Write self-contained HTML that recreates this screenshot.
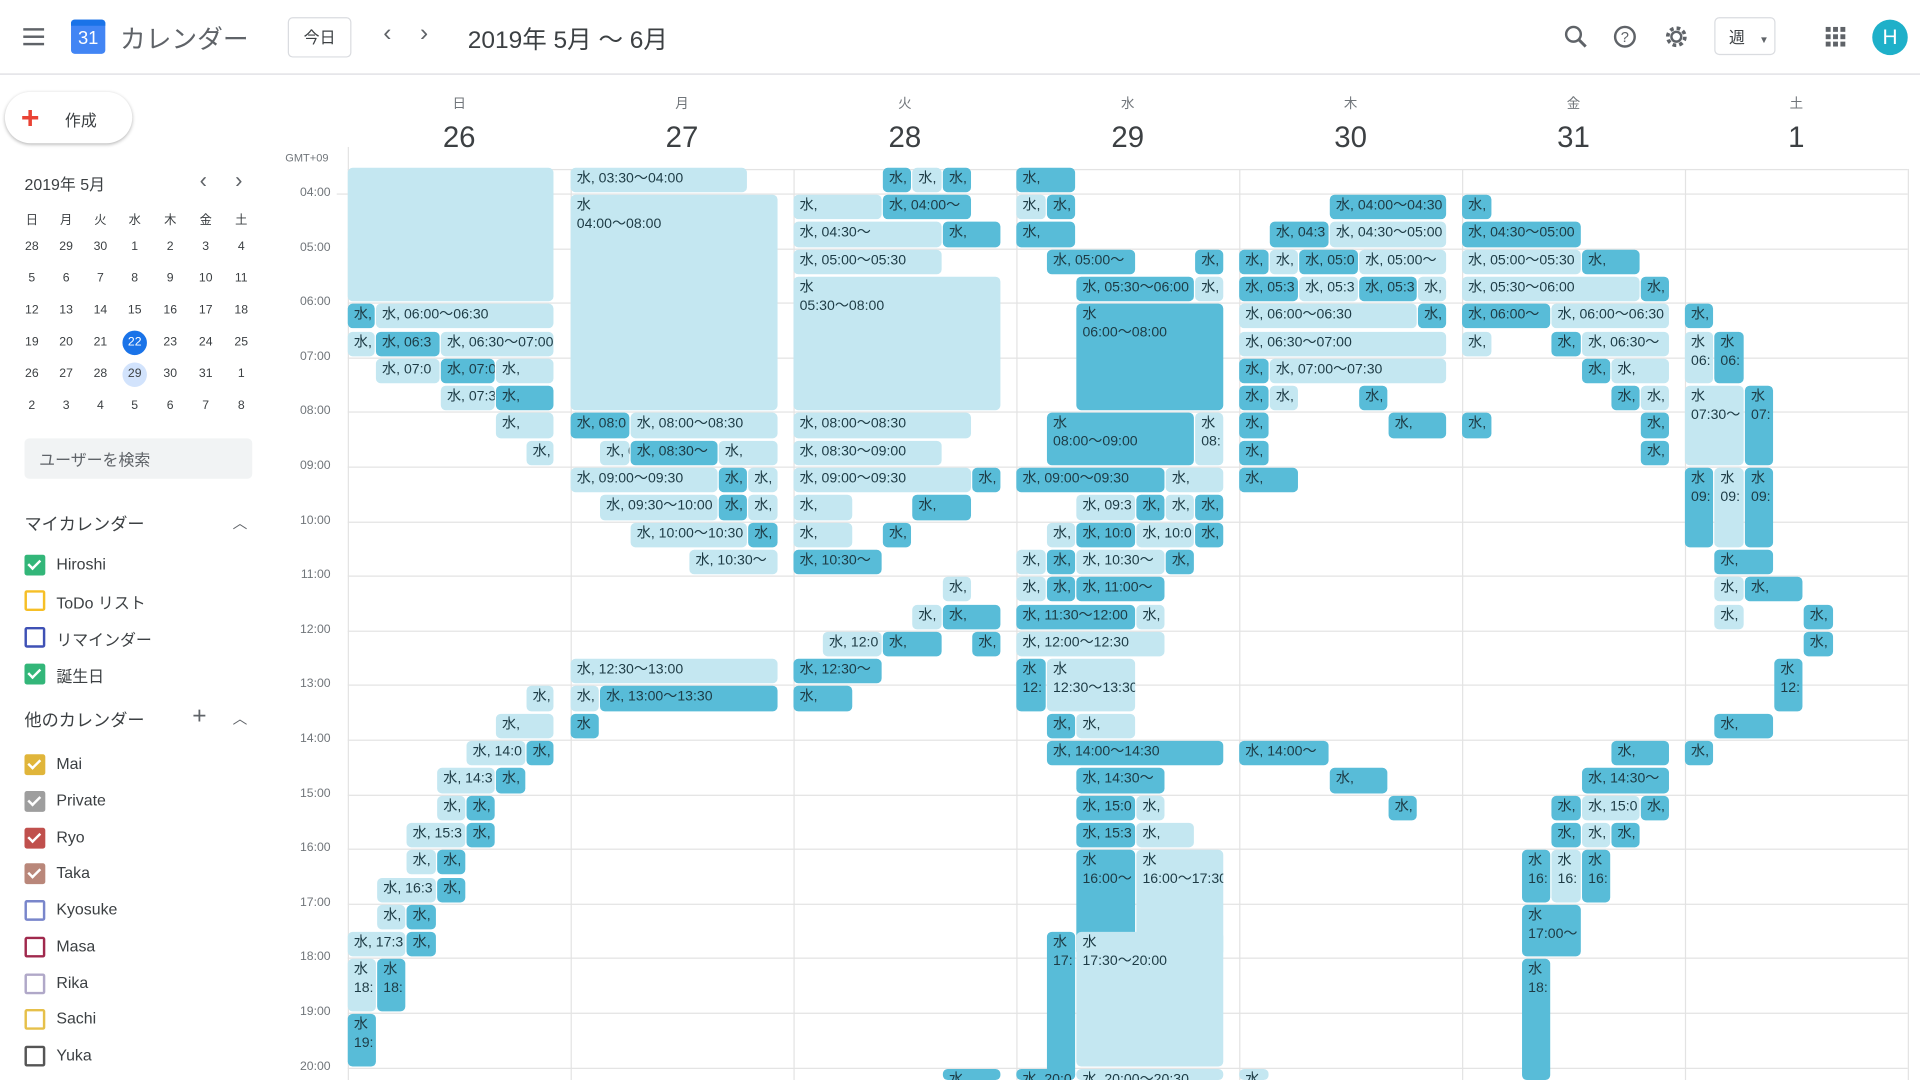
<!DOCTYPE html>
<html><head><meta charset="utf-8">
<style>
html,body{margin:0;padding:0;width:1920px;height:1080px;overflow:hidden;background:#fff;}
#w{position:absolute;left:0;top:0;width:1568px;height:882px;transform:scale(1.22449);transform-origin:0 0;font-family:"Liberation Sans","Noto Sans CJK JP",sans-serif;color:#3c4043;}
.a{position:absolute;white-space:nowrap;}
.ev{position:absolute;border-radius:4px;font-size:11.5px;color:#1d3b45;overflow:hidden;white-space:nowrap;padding:2px 0 0 5px;box-sizing:border-box;line-height:15px;}
.d{background:#58bcd8;}
.l{background:#c4e7f1;}
.hl{position:absolute;left:284px;width:1274px;height:1px;background:#e3e3e3;}
.vl{position:absolute;top:138px;width:1px;height:744px;background:#e3e3e3;}
.tl{position:absolute;left:232px;width:38px;text-align:right;font-size:10px;color:#70757a;}
.mc{position:absolute;width:24px;text-align:center;font-size:10px;color:#3c4043;}
.cb{position:absolute;left:20px;width:13px;height:13px;border:2px solid;border-radius:2px;box-sizing:content-box;}
.cb.c::after{content:"";position:absolute;left:3px;top:0px;width:4px;height:8px;border:solid #fff;border-width:0 2px 2px 0;transform:rotate(45deg);}
.cl{position:absolute;left:46px;font-size:13px;color:#3c4043;}
</style></head><body><div id="w">
<div class="a" style="left:0;top:60px;width:1568px;height:1px;background:#dadce0"></div>
<div class="a" style="left:19px;top:23px;width:17px;height:2px;background:#5f6368;box-shadow:0 6px 0 #5f6368,0 12px 0 #5f6368"></div>
<div class="a" style="left:58px;top:16px;width:28px;height:28px;background:#4285f4;border-radius:3px;color:#fff;font-size:15px;text-align:center;line-height:32px;">31</div>
<div class="a" style="left:58px;top:16px;width:28px;height:5px;background:#1a73e8;border-radius:3px 3px 0 0"></div>
<div class="a" style="left:98px;top:16px;font-size:21px;color:#5f6368;">カレンダー</div>
<div class="a" style="left:235px;top:14px;width:50px;height:31px;border:1px solid #dadce0;border-radius:4px;font-size:13px;text-align:center;line-height:31px;">今日</div>
<div class="a" style="left:313px;top:16px;font-size:20px;color:#5f6368;">‹</div>
<div class="a" style="left:343px;top:16px;font-size:20px;color:#5f6368;">›</div>
<div class="a" style="left:382px;top:16px;font-size:20px;color:#3c4043;">2019年 5月 〜 6月</div>
<svg class="a" style="left:1277px;top:20px" width="20" height="20"><circle cx="8" cy="8" r="6" fill="none" stroke="#5f6368" stroke-width="2"/><line x1="12" y1="12" x2="18" y2="18" stroke="#5f6368" stroke-width="2.4"/></svg>
<svg class="a" style="left:1317px;top:20px" width="20" height="20"><circle cx="10" cy="10" r="8" fill="none" stroke="#5f6368" stroke-width="2"/><text x="10" y="14.5" font-size="12" text-anchor="middle" fill="#5f6368" font-family="Liberation Sans">?</text></svg>
<svg class="a" style="left:1359px;top:20px" width="20" height="20"><circle cx="10" cy="10" r="7" fill="none" stroke="#5f6368" stroke-width="3" stroke-dasharray="3 2.5"/><circle cx="10" cy="10" r="4" fill="none" stroke="#5f6368" stroke-width="2"/></svg>
<div class="a" style="left:1400px;top:14px;width:50px;height:31px;border:1px solid #dadce0;border-radius:4px;font-size:13px;line-height:31px;padding-left:11px;box-sizing:border-box;">週 <span style="font-size:8px;margin-left:8px;color:#5f6368">▼</span></div>
<div class="a" style="left:1491px;top:22px;width:4px;height:4px;background:#5f6368;box-shadow:6px 0 #5f6368,12px 0 #5f6368,0 6px #5f6368,6px 6px #5f6368,12px 6px #5f6368,0 12px #5f6368,6px 12px #5f6368,12px 12px #5f6368"></div>
<div class="a" style="left:1529px;top:16px;width:29px;height:29px;border-radius:50%;background:#1eb0c9;color:#fff;font-size:17px;text-align:center;line-height:29px;">H</div>
<div class="a" style="left:4px;top:75px;width:104px;height:42px;border-radius:21px;box-shadow:0 1px 3px rgba(0,0,0,.3);background:#fff"></div>
<div class="a" style="left:17px;top:85px;font-size:26px;line-height:22px;color:#ea4335;font-weight:bold">+</div>
<div class="a" style="left:53px;top:88px;font-size:13px;">作成</div>
<div class="a" style="left:20px;top:140px;font-size:13px;">2019年 5月</div>
<div class="a" style="left:163px;top:137px;font-size:18px;color:#5f6368">‹</div>
<div class="a" style="left:192px;top:137px;font-size:18px;color:#5f6368">›</div>
<div id="mini"></div>
<div class="a" style="left:20px;top:358px;width:186px;height:33px;background:#f1f3f4;border-radius:4px;font-size:13px;line-height:36px;padding-left:12px;box-sizing:border-box;color:#5f6368">ユーザーを検索</div>
<div class="a" style="left:20px;top:418px;font-size:14px;">マイカレンダー</div>
<div class="a" style="left:190px;top:418px;font-size:12px;color:#5f6368">︿</div>
<div class="a" style="left:20px;top:578px;font-size:14px;">他のカレンダー</div>
<div class="a" style="left:157px;top:574px;font-size:20px;color:#5f6368">+</div>
<div class="a" style="left:190px;top:578px;font-size:12px;color:#5f6368">︿</div>
<div id="cals"></div>
<div class="a" style="left:233px;top:124px;font-size:9px;color:#70757a">GMT+09</div>
<div id="grid"></div>
<div id="evs"></div>
</div>
<script>
var h='';
var wd=['日','月','火','水','木','金','土'],mx=[26,54,82,110,139,168,197];
wd.forEach(function(d,i){h+='<div class="mc" style="left:'+(mx[i]-12)+'px;top:171px">'+d+'</div>';});
var rows=[[28,29,30,1,2,3,4],[5,6,7,8,9,10,11],[12,13,14,15,16,17,18],[19,20,21,22,23,24,25],[26,27,28,29,30,31,1],[2,3,4,5,6,7,8]];
rows.forEach(function(r,ri){r.forEach(function(n,i){var y=202+ri*26;var st='';
if(ri==3&&i==3){h+='<div class="a" style="left:'+(mx[i]-10)+'px;top:'+(y-10)+'px;width:20px;height:20px;border-radius:50%;background:#1a73e8"></div>';st='color:#fff;';}
if(ri==4&&i==3){h+='<div class="a" style="left:'+(mx[i]-10)+'px;top:'+(y-10)+'px;width:20px;height:20px;border-radius:50%;background:#d2e3fc"></div>';}
h+='<div class="mc" style="left:'+(mx[i]-12)+'px;top:'+(y-6)+'px;'+st+'">'+n+'</div>';});});
document.getElementById('mini').innerHTML=h;
h='';
var cals=[[461,'Hiroshi','#33b679',1],[490,'ToDo リスト','#f6bf26',0],[520,'リマインダー','#3f51b5',0],[550,'誕生日','#33b679',1],
[624,'Mai','#e0b53a',1],[654,'Private','#9e9e9e',1],[684,'Ryo','#c0504d',1],[713,'Taka','#b9877a',1],[743,'Kyosuke','#7986cb',0],[773,'Masa','#a0294d',0],[803,'Rika','#b0a8c8',0],[832,'Sachi','#e6c04a',0],[862,'Yuka','#555',0]];
cals.forEach(function(c){h+='<div class="cb'+(c[3]?' c':'')+'" style="top:'+(c[0]-8)+'px;border-color:'+c[2]+';'+(c[3]?'background:'+c[2]:'')+'"></div><div class="cl" style="top:'+(c[0]-8)+'px">'+c[1]+'</div>';});
document.getElementById('cals').innerHTML=h;
h='';
var cols=[284,466,648,830,1012,1194,1376,1558];
var dn=[['日',26],['月',27],['火',28],['水',29],['木',30],['金',31],['土',1]];
dn.forEach(function(d,i){var cx=cols[i]+91;h+='<div class="a" style="left:'+(cx-20)+'px;width:40px;text-align:center;top:76px;font-size:11px;color:#70757a">'+d[0]+'</div><div class="a" style="left:'+(cx-30)+'px;width:60px;text-align:center;top:99px;font-size:24px;color:#3c4043">'+d[1]+'</div>';});
cols.forEach(function(x){h+='<div class="vl" style="left:'+x+'px"></div>';});
h+='<div class="a" style="left:284px;top:120px;width:1px;height:18px;background:#e3e3e3"></div>';
h+='<div class="hl" style="top:138px"></div>';
for(var t=4;t<=20;t++){var y=158+(t-4)*44.6;h+='<div class="hl" style="top:'+y+'px"></div><div class="tl" style="top:'+(y-6)+'px">'+(t<10?'0':'')+t+':00</div>';}
h+='<div class="a" style="left:275px;top:158px;width:9px;height:1px;background:#e3e3e3"></div>';
document.getElementById('grid').innerHTML=h;
function Y(t){return 158+(t-4)*44.6;}
var E=[
[284,453,3.5,5,0,''],
[284,307,6,1,1,'水,'],[307,453,6,1,0,'水, 06:00〜06:30'],
[284,307,6.5,1,0,'水,'],[307,360,6.5,1,1,'水, 06:3'],[360,453,6.5,1,0,'水, 06:30〜07:00'],
[307,360,7,1,0,'水, 07:0'],[360,405,7,1,1,'水, 07:0'],[405,453,7,1,0,'水,'],
[360,405,7.5,1,0,'水, 07:3'],[405,453,7.5,1,1,'水,'],
[405,453,8,1,0,'水,'],[430,453,8.5,1,0,'水,'],[430,453,13,1,0,'水,'],[405,453,13.5,1,0,'水,'],
[381,430,14,1,0,'水, 14:0'],[430,453,14,1,1,'水,'],
[357,405,14.5,1,0,'水, 14:3'],[405,430,14.5,1,1,'水,'],
[357,381,15,1,0,'水,'],[381,405,15,1,1,'水,'],
[332,381,15.5,1,0,'水, 15:3'],[381,405,15.5,1,1,'水,'],
[332,357,16,1,0,'水,'],[357,381,16,1,1,'水,'],
[308,357,16.5,1,0,'水, 16:3'],[357,381,16.5,1,1,'水,'],
[308,332,17,1,0,'水,'],[332,357,17,1,1,'水,'],
[284,332,17.5,1,0,'水, 17:3'],[332,357,17.5,1,1,'水,'],
[284,308,18,2,0,'水<br>18:'],[308,332,18,2,1,'水<br>18:'],[284,308,19,2,1,'水<br>19:'],
[466,611,3.5,1,0,'水, 03:30〜04:00'],[466,636,4,8,0,'水<br>04:00〜08:00'],
[466,515,8,1,1,'水, 08:0'],[515,636,8,1,0,'水, 08:00〜08:30'],
[490,515,8.5,1,0,'水, 08:3'],[515,587,8.5,1,1,'水, 08:30〜'],[587,636,8.5,1,0,'水,'],
[466,587,9,1,0,'水, 09:00〜09:30'],[587,611,9,1,1,'水,'],[611,636,9,1,0,'水,'],
[490,587,9.5,1,0,'水, 09:30〜10:00'],[587,611,9.5,1,1,'水,'],[611,636,9.5,1,0,'水,'],
[515,611,10,1,0,'水, 10:00〜10:30'],[611,636,10,1,1,'水,'],
[563,636,10.5,1,0,'水, 10:30〜'],
[466,636,12.5,1,0,'水, 12:30〜13:00'],[466,490,13,1,0,'水,'],[490,636,13,1,1,'水, 13:00〜13:30'],[466,490,13.5,1,1,'水'],
[721,745,3.5,1,1,'水,'],[745,770,3.5,1,0,'水,'],[770,794,3.5,1,1,'水,'],
[648,721,4,1,0,'水,'],[721,794,4,1,1,'水, 04:00〜'],
[648,770,4.5,1,0,'水, 04:30〜'],[770,818,4.5,1,1,'水,'],
[648,770,5,1,0,'水, 05:00〜05:30'],[648,818,5.5,5,0,'水<br>05:30〜08:00'],
[648,794,8,1,0,'水, 08:00〜08:30'],[648,770,8.5,1,0,'水, 08:30〜09:00'],
[648,794,9,1,0,'水, 09:00〜09:30'],[794,818,9,1,1,'水,'],
[648,697,9.5,1,0,'水,'],[745,794,9.5,1,1,'水,'],
[648,697,10,1,0,'水,'],[721,745,10,1,1,'水,'],
[648,721,10.5,1,1,'水, 10:30〜'],[770,794,11,1,0,'水,'],
[745,770,11.5,1,0,'水,'],[770,818,11.5,1,1,'水,'],
[672,721,12,1,0,'水, 12:0'],[721,770,12,1,1,'水,'],[794,818,12,1,1,'水,'],
[648,721,12.5,1,1,'水, 12:30〜'],[648,697,13,1,1,'水,'],[770,818,20,1,1,'水,'],
[830,879,3.5,1,1,'水,'],[830,855,4,1,0,'水,'],[855,879,4,1,1,'水,'],[830,879,4.5,1,1,'水,'],
[855,928,5,1,1,'水, 05:00〜'],[976,1000,5,1,1,'水,'],
[879,976,5.5,1,1,'水, 05:30〜06:00'],[976,1000,5.5,1,0,'水,'],
[879,1000,6,4,1,'水<br>06:00〜08:00'],
[855,976,8,2,1,'水<br>08:00〜09:00'],[976,1000,8,2,0,'水<br>08:'],
[830,952,9,1,1,'水, 09:00〜09:30'],[952,1000,9,1,0,'水,'],
[879,928,9.5,1,0,'水, 09:3'],[928,952,9.5,1,1,'水,'],[952,976,9.5,1,0,'水,'],[976,1000,9.5,1,1,'水,'],
[855,879,10,1,0,'水,'],[879,928,10,1,1,'水, 10:0'],[928,976,10,1,0,'水, 10:0'],[976,1000,10,1,1,'水,'],
[830,855,10.5,1,0,'水,'],[855,879,10.5,1,1,'水,'],[879,952,10.5,1,0,'水, 10:30〜'],[952,976,10.5,1,1,'水,'],
[830,855,11,1,0,'水,'],[855,879,11,1,1,'水,'],[879,952,11,1,1,'水, 11:00〜'],
[830,928,11.5,1,1,'水, 11:30〜12:00'],[928,952,11.5,1,0,'水,'],
[830,952,12,1,0,'水, 12:00〜12:30'],
[830,855,12.5,2,1,'水<br>12:'],[855,928,12.5,2,0,'水<br>12:30〜13:30'],
[855,879,13.5,1,1,'水,'],[879,928,13.5,1,0,'水,'],
[855,1000,14,1,1,'水, 14:00〜14:30'],[879,952,14.5,1,1,'水, 14:30〜'],
[879,928,15,1,1,'水, 15:0'],[928,952,15,1,0,'水,'],
[879,928,15.5,1,1,'水, 15:3'],[928,976,15.5,1,0,'水,'],
[879,928,16,4,1,'水<br>16:00〜'],[928,1000,16,4,0,'水<br>16:00〜17:30'],
[855,879,17.5,6,1,'水<br>17:'],[879,1000,17.5,5,0,'水<br>17:30〜20:00'],
[879,1000,20,1,0,'水, 20:00〜20:30'],[830,879,20,1,1,'水, 20:0'],
[1086,1182,4,1,1,'水, 04:00〜04:30'],
[1037,1086,4.5,1,1,'水, 04:3'],[1086,1182,4.5,1,0,'水, 04:30〜05:00'],
[1012,1037,5,1,1,'水,'],[1037,1061,5,1,0,'水,'],[1061,1110,5,1,1,'水, 05:0'],[1110,1182,5,1,0,'水, 05:00〜'],
[1012,1061,5.5,1,1,'水, 05:3'],[1061,1110,5.5,1,0,'水, 05:3'],[1110,1158,5.5,1,1,'水, 05:3'],[1158,1182,5.5,1,0,'水,'],
[1012,1158,6,1,0,'水, 06:00〜06:30'],[1158,1182,6,1,1,'水,'],
[1012,1182,6.5,1,0,'水, 06:30〜07:00'],
[1012,1037,7,1,1,'水,'],[1037,1182,7,1,0,'水, 07:00〜07:30'],
[1012,1037,7.5,1,1,'水,'],[1037,1061,7.5,1,0,'水,'],[1110,1134,7.5,1,1,'水,'],
[1012,1037,8,1,1,'水,'],[1134,1182,8,1,1,'水,'],[1012,1037,8.5,1,1,'水,'],[1012,1061,9,1,1,'水,'],
[1012,1086,14,1,1,'水, 14:00〜'],[1086,1134,14.5,1,1,'水,'],[1134,1158,15,1,1,'水,'],[1012,1037,20,1,0,'水,'],
[1194,1219,4,1,1,'水,'],[1194,1292,4.5,1,1,'水, 04:30〜05:00'],
[1194,1292,5,1,0,'水, 05:00〜05:30'],[1292,1340,5,1,1,'水,'],
[1194,1340,5.5,1,0,'水, 05:30〜06:00'],[1340,1364,5.5,1,1,'水,'],
[1194,1267,6,1,1,'水, 06:00〜'],[1267,1364,6,1,0,'水, 06:00〜06:30'],
[1194,1219,6.5,1,0,'水,'],[1267,1292,6.5,1,1,'水,'],[1292,1364,6.5,1,0,'水, 06:30〜'],
[1292,1316,7,1,1,'水,'],[1316,1364,7,1,0,'水,'],
[1316,1340,7.5,1,1,'水,'],[1340,1364,7.5,1,0,'水,'],
[1194,1219,8,1,1,'水,'],[1340,1364,8,1,1,'水,'],[1340,1364,8.5,1,1,'水,'],
[1316,1364,14,1,1,'水,'],[1292,1364,14.5,1,1,'水, 14:30〜'],
[1267,1292,15,1,1,'水,'],[1292,1340,15,1,0,'水, 15:0'],[1340,1364,15,1,1,'水,'],
[1267,1292,15.5,1,1,'水,'],[1292,1316,15.5,1,0,'水,'],[1316,1340,15.5,1,1,'水,'],
[1243,1267,16,2,1,'水<br>16:'],[1267,1292,16,2,0,'水<br>16:'],[1292,1316,16,2,1,'水<br>16:'],
[1243,1292,17,2,1,'水<br>17:00〜'],[1243,1267,18,6,1,'水<br>18:'],
[1376,1400,6,1,1,'水,'],[1376,1400,6.5,2,0,'水<br>06:'],[1400,1425,6.5,2,1,'水<br>06:'],
[1376,1425,7.5,3,0,'水<br>07:30〜'],[1425,1449,7.5,3,1,'水<br>07:'],
[1376,1400,9,3,1,'水<br>09:'],[1400,1425,9,3,0,'水<br>09:'],[1425,1449,9,3,1,'水<br>09:'],
[1400,1449,10.5,1,1,'水,'],[1400,1425,11,1,0,'水,'],[1425,1473,11,1,1,'水,'],
[1400,1425,11.5,1,0,'水,'],[1473,1498,11.5,1,1,'水,'],[1473,1498,12,1,1,'水,'],
[1449,1473,12.5,2,1,'水<br>12:'],[1400,1449,13.5,1,1,'水,'],[1376,1400,14,1,1,'水,']
];
h='';
E.forEach(function(e){var top=Y(e[2])+1,ht=e[3]*22.3-2;if(top+ht>882)ht=882-top;
h+='<div class="ev '+(e[4]?'d':'l')+'" style="left:'+e[0]+'px;width:'+(e[1]-e[0]-1)+'px;top:'+top+'px;height:'+ht+'px">'+e[5]+'</div>';});
document.getElementById('evs').innerHTML=h;
</script>
</body></html>
